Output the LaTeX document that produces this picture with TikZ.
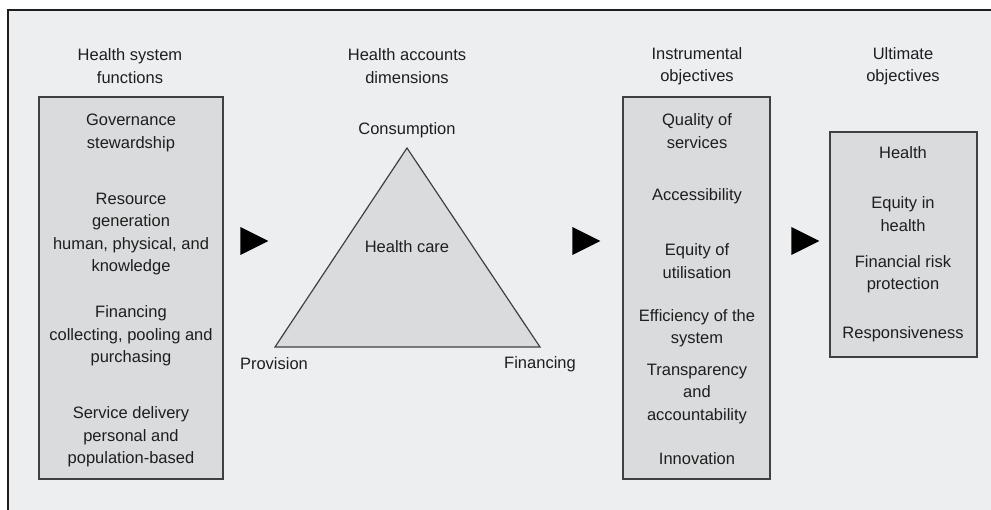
\documentclass[tikz,border=0pt]{standalone}
\usepackage{fontspec}
\setmainfont{Liberation Sans}
\usetikzlibrary{shapes.geometric}
\definecolor{paper}{HTML}{ECEEF0}
\definecolor{boxgrey}{HTML}{DADBDD}
\definecolor{ink}{HTML}{1E1E1E}
\tikzstyle{label}=[text=ink, align=center, inner sep=0pt, font=\fontsize{16.5}{22.5}\selectfont]
\tikzstyle{panel}=[draw=ink!85, fill=boxgrey, line width=1.2pt]
\tikzstyle{pointer}=[isosceles triangle, isosceles triangle stretches, fill=black,
  minimum height=28pt, minimum width=28pt, inner sep=0pt, anchor=center]

\begin{document}
\begin{tikzpicture}[x=1pt, y=-1pt]
          \useasboundingbox (0, 0) rectangle (991, 510);
          \fill[paper] (8, 10) rectangle (991, 510);
          \draw[ink, line width=1.6pt] (8, 510) -- (8, 10) -- (991, 10);
          % column headings
          \node[label] (hfunc) at (130, 66) {Health system\\functions};
          \node[label] (hdim) at (407, 66) {Health accounts\\dimensions};
          \node[label] (hinst) at (697, 66) {Instrumental\\objectives};
          \node[label] (hult) at (903, 66) {Ultimate\\objectives};
          % boxes
          \draw[panel] (39, 97) rectangle (223, 479);
          \draw[panel] (623, 97) rectangle (770, 479);
          \draw[panel] (830, 132) rectangle (977, 357);
          % health system functions
          \node[label] (gov) at (131, 133) {Governance\\stewardship};
          \node[label] (res) at (131, 234) {Resource\\generation\\human, physical, and\\knowledge};
          \node[label] (fin) at (131, 336) {Financing\\collecting, pooling and\\purchasing};
          \node[label] (serv) at (131, 437) {Service delivery\\personal and\\population-based};
          % health accounts triangle
          \coordinate (cons) at (407, 148);
          \coordinate (prov) at (275, 347);
          \coordinate (finc) at (540, 347);
          \draw[panel] (cons) -- (finc) -- (prov) -- cycle;
          \node[label, above=10pt] (lcons) at (cons) {Consumption};
          \node[label] (care) at (407, 247) {Health care};
          \node[label] (lprov) at (274, 364) {Provision};
          \node[label] (lfinc) at (540, 364) {Financing};
          % instrumental objectives
          \node[label] (qual) at (697, 131) {Quality of\\services};
          \node[label] (acc) at (697, 196) {Accessibility};
          \node[label] (equ) at (697, 261) {Equity of\\utilisation};
          \node[label] (eff) at (697, 328) {Efficiency of the\\system};
          \node[label] (trans) at (697, 394) {Transparency\\and\\accountability};
          \node[label] (inno) at (697, 459) {Innovation};
          % ultimate objectives
          \node[label] (health) at (903, 153) {Health};
          \node[label] (eqh) at (903, 214) {Equity in\\health};
          \node[label] (risk) at (903, 274) {Financial risk\\protection};
          \node[label] (resp) at (903, 334) {Responsiveness};
          % pointers
          \node[pointer] (p1) at (249, 241) {};
          \node[pointer] (p2) at (581, 241) {};
          \node[pointer] (p3) at (800, 241) {};
        \end{tikzpicture}
\end{document}
